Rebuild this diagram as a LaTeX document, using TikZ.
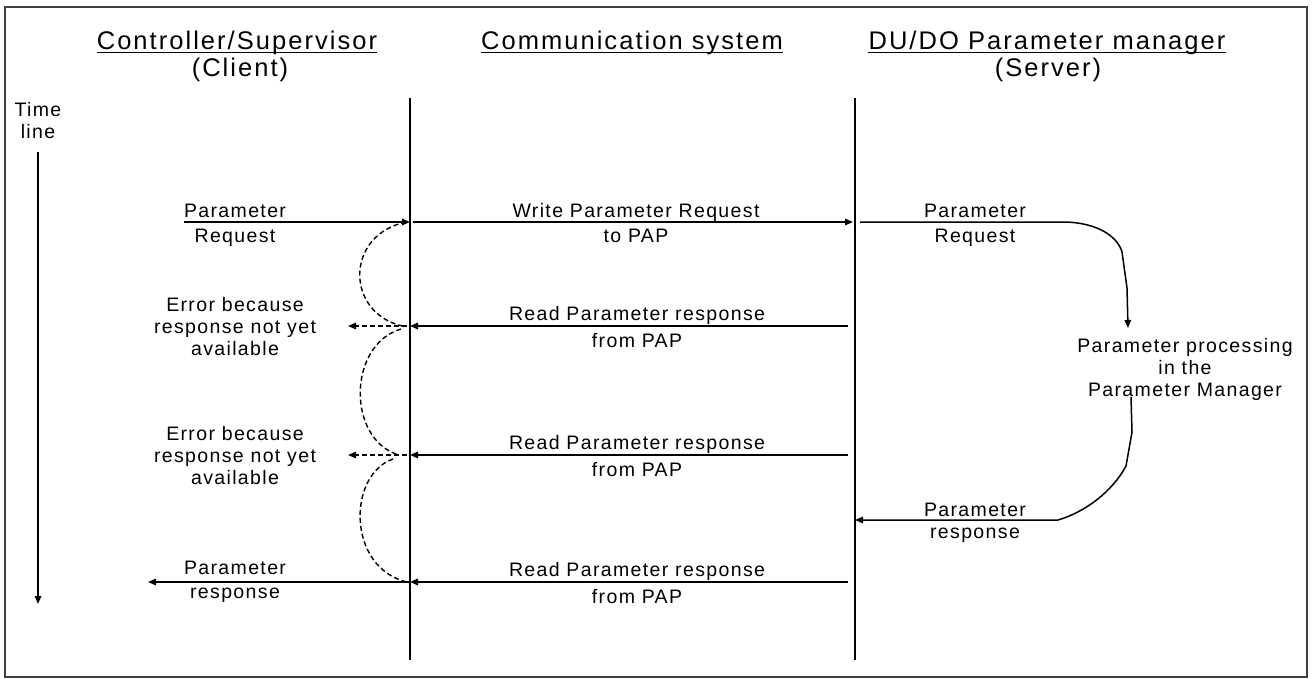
\documentclass[tikz,border=0pt]{standalone}
\usepackage{fontspec}
\setmainfont{Liberation Sans}[LetterSpace=7]
\newfontfamily\hdrfont{Liberation Sans}[LetterSpace=8]
\usetikzlibrary{arrows.meta,calc}

\begin{document}
\begin{tikzpicture}[x=1pt, y=-1pt,
    txt/.style={font=\fontsize{19.5}{22}\selectfont, inner sep=0pt, align=center},
    hdr/.style={font=\hdrfont\fontsize{25.5}{27}\selectfont, inner sep=0pt},
    life/.style={line width=1.6pt},
    msg/.style={line width=1.5pt, -{Triangle[length=8pt,width=6.5pt]}},
    wait/.style={line width=1.4pt, dash pattern=on 5pt off 3pt}]
    \useasboundingbox (0,0) rectangle (1313,679);

    % Frame
    \draw[black!75, line width=1.6pt] (5,7) rectangle (1307,677);

    % Headers
    \node[hdr, anchor=base] (hCli) at (237,50) {Controller/Supervisor};
    \node[hdr, anchor=base] (hCliSub) at (240,77) {(Client)};
    \node[hdr, anchor=base] (hCom) at (632,50) {Communication system};
    \node[hdr, anchor=base] (hSrv) at (1047,50) {DU/DO Parameter manager};
    \node[hdr, anchor=base] (hSrvSub) at (1048,77) {(Server)};
    \foreach \h in {hCli,hCom,hSrv}
        \draw[line width=1.4pt] ([yshift=-2.5pt]\h.base west) -- ([yshift=-2.5pt]\h.base east);

    % Time line
    \node[txt] (tl) at (38,121) {Time\\line};
    \coordinate (tlTop) at (38,152);
    \coordinate (tlEnd) at (38,604);
    \draw[msg] (tlTop) -- (tlEnd);

    % Life lines
    \coordinate (cliTop) at (410,98);
    \coordinate (cliBot) at (410,660);
    \coordinate (srvTop) at (855,98);
    \coordinate (srvBot) at (855,660);
    \draw[life] (cliTop) -- (cliBot);
    \draw[life] (srvTop) -- (srvBot);

    % Request
    \coordinate (req0) at (184,222);
    \coordinate (cli1) at (410,222);
    \coordinate (srv1) at (853,222);
    \draw[msg] (req0) -- (cli1);
    \draw[msg] ([xshift=3pt]cli1) -- (srv1);
    \node[txt, anchor=base] (reqA) at (235,217) {Parameter};
    \node[txt, anchor=base] (reqB) at (235,242) {Request};
    \node[txt, anchor=base] (wrA) at (636,217) {Write Parameter Request};
    \node[txt, anchor=base] (wrB) at (636,242) {to PAP};

    % Parameter manager
    \coordinate (srvOut) at (860,222);
    \node[txt, anchor=base] (srvReqA) at (975,217) {Parameter};
    \node[txt, anchor=base] (srvReqB) at (975,242) {Request};
    \node[txt] (proc) at (1185,369) {Parameter processing\\in the\\Parameter Manager};
    \coordinate (procIn) at (1128,328);
    \coordinate (procOut) at (1131,397);
    \draw[msg] (srvOut) -- (1065,222) .. controls (1100,223) and (1118,238) .. (1122,252)
        -- (1127,288) -- (procIn);
    \coordinate (srvResp) at (855,520);
    \draw[msg] (procOut) -- (1132,432) -- (1126,466) .. controls (1112,492) and (1085,512) .. (1058,520)
        -- (srvResp);
    \node[txt, anchor=base] (srvRspA) at (975,516) {Parameter};
    \node[txt, anchor=base] (srvRspB) at (975,538) {response};

    % Read requests
    \foreach \i/\y in {2/326,3/455,4/582} {
        \coordinate (cli\i) at (410,\y);
        \coordinate (srv\i) at (848,\y);
        \draw[msg] (srv\i) -- (cli\i);
        \node[txt, anchor=base] (rd\i) at (637,\y-6) {Read Parameter response};
        \node[txt, anchor=base] (fp\i) at (637,\y+21) {from PAP};
    }

    % Waiting for the response
    \draw[wait] ([xshift=-4pt]cli1) .. controls (345,235) and (345,312) .. ([xshift=-8pt]cli2);
    \draw[wait] ([xshift=-9pt,yshift=-3pt]cli2) .. controls (347,345) and (347,440) .. ([xshift=-11pt]cli3);
    \draw[wait] ([xshift=-17pt,yshift=-4pt]cli3) .. controls (347,475) and (347,568) .. ([xshift=-3pt]cli4);

    % Errors
    \foreach \i in {2,3} {
        \coordinate (err\i) at ($(cli\i)+(-62,0)$);
        \draw[wait, -{Triangle[length=8pt,width=6.5pt]}] ([xshift=-3pt]cli\i) -- (err\i);
        \node[txt] (errTxt\i) at ($(cli\i)+(-175,1)$) {Error because\\response not yet\\available};
    }

    % Response
    \coordinate (resp0) at (148,582);
    \draw[msg] (cli4) -- (resp0);
    \node[txt, anchor=base] (rspA) at (235,574) {Parameter};
    \node[txt, anchor=base] (rspB) at (235,598) {response};
\end{tikzpicture}
\end{document}
